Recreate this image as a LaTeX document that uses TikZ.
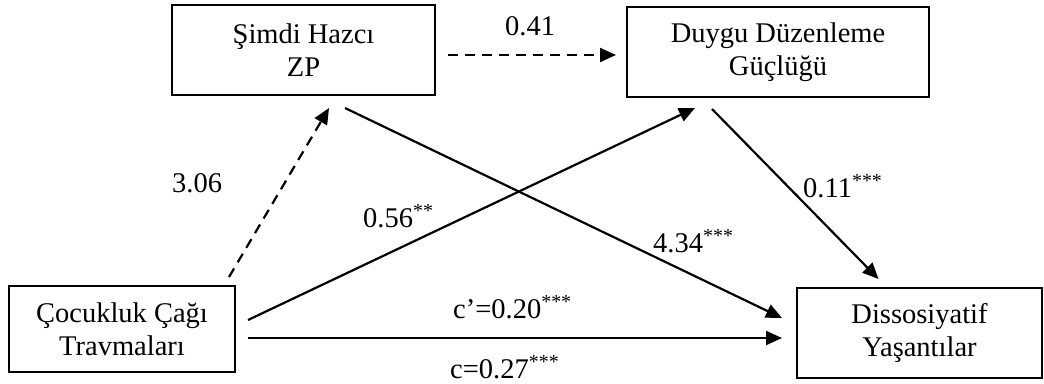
\documentclass[tikz,border=0pt]{standalone}
\usepackage{fontspec}
\setmainfont{Liberation Serif}
\usetikzlibrary{calc,arrows.meta}
\begin{document}
\begin{tikzpicture}[x=1pt,y=-1pt,
  box/.style={draw,line width=2pt,inner sep=0pt,align=center,font=\fontsize{28.5}{33}\selectfont},
  lbl/.style={inner sep=0pt,anchor=base west,font=\fontsize{28.5}{33}\selectfont},
  conn/.style={line width=2.2pt,-{Triangle[length=16pt,width=14pt]}},
  dsh/.style={conn,dash pattern=on 10pt off 7pt}]
\useasboundingbox (0,0) rectangle (1044,383);
\node[box,minimum width=263pt,minimum height=90pt] (S) at (303.5,50) {Şimdi Hazcı\\ZP};
\node[box,minimum width=302pt,minimum height=90pt] (D) at (778,52) {Duygu Düzenleme\\Güçlüğü};
\node[box,minimum width=226pt,minimum height=86pt] (C) at (122,329) {Çocukluk Çağı\\Travmaları};
\node[box,minimum width=245pt,minimum height=90pt] (X) at (919.5,333) {Dissosiyatif\\Yaşantılar};
\draw[dsh] ($(S.east)+(12,5)$) -- ($(D.west)+(-10,3)$);
\draw[dsh] ($(C.north east)+(-7,-8)$) -- ($(S.south)+(25.5,12)$);
\draw[conn] ($(C.east)+(12,-9)$) -- ($(D.south)+(-83,10)$);
\draw[conn] ($(S.south)+(41.5,12)$) -- ($(X.west)+(-14,-15)$);
\draw[conn] ($(D.south)+(-66,11)$) -- ($(X.north)+(-41,-8)$);
\draw[conn] ($(C.east)+(12,9)$) -- ($(X.west)+(-14,5)$);
\node[lbl] (l1) at (505,35) {0.41};
\node[lbl] (l2) at (172,192) {3.06};
\node[lbl] (l3) at (363,227) {0.56\textsuperscript{**}};
\node[lbl] (l4) at (653,252) {4.34\textsuperscript{***}};
\node[lbl] (l5) at (803,197) {0.11\textsuperscript{***}};
\node[lbl] (l6) at (453,318) {c’=0.20\textsuperscript{***}};
\node[lbl] (l7) at (450,378) {c=0.27\textsuperscript{***}};
\end{tikzpicture}
\end{document}
